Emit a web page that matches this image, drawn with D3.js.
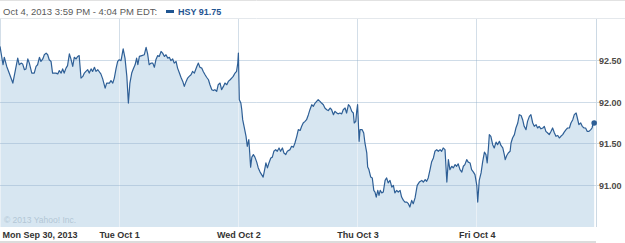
<!DOCTYPE html>
<html>
<head>
<meta charset="utf-8">
<script src="https://cdn.jsdelivr.net/npm/d3@7"></script>
<style>
  html, body { margin: 0; padding: 0; background: #fff; }
  svg { display: block; font-family: "Liberation Sans", Arial, sans-serif; }
</style>
</head>
<body>
<svg id="chart" width="625" height="243"></svg>
<script>
// ---- data (trading minutes since Mon 9:30 open, price) ----
const dayLabels = ["Mon Sep 30, 2013", "Tue Oct 1", "Wed Oct 2", "Thu Oct 3", "Fri Oct 4"];
const dayStarts = [0, 390, 780, 1170, 1560];
const yTicks = [91.0, 91.5, 92.0, 92.5];
const symbol = "HSY";
const headerText = "Oct 4, 2013 3:59 PM - 4:04 PM EDT:";

const mon = [[0,92.67],[10,92.45],[14,92.54],[22,92.43],[30,92.35],[36,92.29],[42,92.23],[58,92.53],[63,92.45],[69,92.47],[74,92.46],[80,92.39],[85,92.40],[91,92.52],[96,92.47],[104,92.35],[112,92.35],[118,92.43],[123,92.45],[129,92.54],[134,92.49],[140,92.52],[145,92.57],[151,92.59],[156,92.57],[161,92.51],[167,92.49],[172,92.35],[178,92.35],[183,92.35],[189,92.34],[194,92.38],[200,92.35],[205,92.40],[210,92.35],[216,92.41],[221,92.44],[227,92.58],[232,92.52],[238,92.43],[243,92.54],[249,92.52],[254,92.55],[259,92.56],[265,92.29],[271,92.31],[276,92.35],[281,92.37],[287,92.39],[292,92.35],[298,92.40],[303,92.37],[309,92.42],[314,92.37],[320,92.39],[330,92.34],[336,92.28],[344,92.17],[349,92.23],[358,92.23],[363,92.26],[369,92.23],[374,92.29],[380,92.41],[385,92.49],[390,92.51]];
const tue = [[396,92.50],[403,92.64],[409,92.53],[415,92.31],[420,91.99],[425,92.23],[431,92.35],[436,92.40],[442,92.45],[447,92.53],[451,92.45],[456,92.55],[464,92.56],[472,92.57],[478,92.66],[483,92.58],[488,92.45],[494,92.47],[500,92.47],[505,92.42],[510,92.51],[516,92.56],[521,92.55],[527,92.61],[532,92.59],[538,92.55],[543,92.57],[549,92.53],[554,92.54],[559,92.50],[565,92.52],[570,92.47],[576,92.49],[581,92.41],[587,92.35],[592,92.30],[598,92.25],[603,92.19],[609,92.25],[614,92.29],[619,92.31],[625,92.33],[630,92.37],[636,92.35],[644,92.43],[649,92.47],[654,92.42],[660,92.41],[665,92.37],[671,92.33],[676,92.30],[682,92.27],[687,92.21],[693,92.15],[698,92.14],[703,92.15],[709,92.13],[714,92.21],[720,92.23],[725,92.15],[731,92.19],[736,92.23],[742,92.21],[747,92.25],[753,92.27],[758,92.29],[763,92.31],[769,92.35],[774,92.37],[778,92.47],[780,92.59]];
const wed = [[783,92.03],[788,91.99],[791,91.91],[794,91.79],[799,91.70],[805,91.59],[809,91.47],[814,91.55],[816,91.45],[820,91.22],[824,91.34],[829,91.37],[834,91.34],[840,91.28],[845,91.21],[851,91.16],[856,91.13],[861,91.10],[867,91.21],[870,91.27],[875,91.21],[880,91.27],[886,91.33],[891,91.34],[896,91.41],[902,91.43],[907,91.41],[913,91.45],[918,91.41],[924,91.45],[929,91.39],[935,91.37],[940,91.41],[949,91.43],[954,91.47],[960,91.46],[965,91.51],[971,91.59],[976,91.67],[982,91.66],[987,91.71],[992,91.75],[998,91.77],[1003,91.79],[1009,91.85],[1014,91.91],[1020,91.97],[1025,91.95],[1031,91.99],[1036,92.01],[1041,92.03],[1047,92.01],[1052,91.99],[1058,91.97],[1063,91.93],[1069,91.91],[1074,91.90],[1080,91.93],[1085,91.91],[1091,91.85],[1096,91.89],[1102,91.87],[1107,91.86],[1112,91.87],[1118,91.86],[1123,91.91],[1129,91.93],[1134,91.87],[1140,91.97],[1145,91.95],[1151,91.89],[1156,91.87],[1159,91.75],[1164,91.77],[1167,91.89],[1170,91.97]];
const thu = [[1175,91.53],[1178,91.67],[1185,91.67],[1190,91.63],[1194,91.51],[1200,91.39],[1203,91.22],[1207,91.19],[1213,91.10],[1218,91.09],[1223,90.94],[1227,90.92],[1231,90.86],[1236,90.94],[1240,90.88],[1244,90.94],[1249,90.91],[1254,90.92],[1260,91.06],[1265,91.09],[1270,91.03],[1276,91.06],[1282,90.98],[1287,91.00],[1292,90.91],[1298,90.94],[1303,90.92],[1309,90.94],[1314,90.86],[1320,90.82],[1325,90.80],[1331,90.80],[1336,90.78],[1341,90.74],[1347,90.82],[1352,90.78],[1358,90.85],[1365,91.00],[1372,91.04],[1380,91.06],[1385,91.04],[1391,91.07],[1396,91.05],[1401,91.09],[1407,91.19],[1412,91.28],[1418,91.33],[1423,91.41],[1429,91.43],[1434,91.41],[1440,91.43],[1445,91.41],[1450,91.45],[1456,91.43],[1462,91.04],[1467,91.31],[1472,91.19],[1478,91.23],[1483,91.21],[1489,91.25],[1494,91.23],[1499,91.26],[1505,91.19],[1511,91.16],[1516,91.23],[1521,91.25],[1527,91.31],[1532,91.28],[1538,91.27],[1543,91.19],[1549,91.16],[1554,91.13],[1560,91.00]];
const fri = [[1563,90.80],[1568,91.06],[1574,91.15],[1579,91.28],[1585,91.40],[1590,91.37],[1594,91.27],[1598,91.45],[1601,91.61],[1606,91.59],[1612,91.49],[1617,91.45],[1623,91.52],[1628,91.49],[1634,91.53],[1639,91.48],[1645,91.45],[1650,91.37],[1653,91.31],[1658,91.36],[1663,91.39],[1669,91.41],[1672,91.51],[1677,91.57],[1683,91.61],[1688,91.69],[1694,91.75],[1699,91.85],[1705,91.84],[1710,91.79],[1715,91.71],[1721,91.67],[1726,91.77],[1732,91.83],[1737,91.85],[1743,91.75],[1748,91.71],[1754,91.73],[1759,91.69],[1764,91.71],[1770,91.68],[1776,91.69],[1781,91.71],[1786,91.65],[1792,91.63],[1797,91.61],[1803,91.65],[1808,91.69],[1814,91.63],[1819,91.59],[1825,91.60],[1830,91.57],[1835,91.59],[1841,91.61],[1846,91.64],[1852,91.67],[1857,91.69],[1863,91.69],[1868,91.75],[1874,91.79],[1879,91.85],[1885,91.87],[1889,91.81],[1894,91.73],[1900,91.75],[1905,91.71],[1911,91.69],[1916,91.69],[1921,91.65],[1927,91.65],[1933,91.67],[1937,91.69],[1941,91.75],[1944,91.75]];

const series = [].concat(mon, tue, wed, thu, fri);
const last = series[series.length - 1];

// ---- layout ----
const W = 625, H = 243;
const plotLeft = 0, plotRight = 596, plotTop = 19, plotBottom = 227;

const svg = d3.select("#chart");
const x = d3.scaleLinear().domain([0, 1950]).range([plotLeft, plotRight]);
const y = d3.scaleLinear().domain([90.5, 93.0]).range([plotBottom, plotTop]);
const px = v => Math.floor(v) + 0.5;

// header
svg.append("line").attr("x1", 0).attr("x2", W).attr("y1", 0.5).attr("y2", 0.5)
  .attr("stroke", "#e2e2e2");
svg.append("line").attr("x1", 0).attr("x2", W).attr("y1", plotTop - 0.5).attr("y2", plotTop - 0.5)
  .attr("stroke", "#e4e8ec");
svg.append("text").attr("x", 3).attr("y", 14.5)
  .attr("font-size", "9.5px").attr("fill", "#5a5a5a").text(headerText);
svg.append("rect").attr("x", 166).attr("y", 10).attr("width", 8).attr("height", 3)
  .attr("fill", "#1f5592");
svg.append("text").attr("x", 178).attr("y", 14.5)
  .attr("font-size", "9px").attr("font-weight", "bold").attr("fill", "#1f5592")
  .text(symbol + " " + d3.format(".2f")(last[1]));

// vertical day gridlines (under fill)
svg.append("g").selectAll("line").data(dayStarts).join("line")
  .attr("x1", d => px(x(d))).attr("x2", d => px(x(d)))
  .attr("y1", plotTop).attr("y2", plotBottom)
  .attr("stroke", "#d3dee8");

// area
const area = d3.area().x(d => x(d[0])).y0(plotBottom).y1(d => y(d[1]));
const line = d3.line().x(d => x(d[0])).y(d => y(d[1]));

const defs = svg.append("defs");
defs.append("clipPath").attr("id", "areaClip").append("path").attr("d", area(series));

svg.append("path").attr("d", area(series)).attr("fill", "#d7e6f1");

// vertical gridlines inside fill (lighter)
svg.append("g").attr("clip-path", "url(#areaClip)")
  .selectAll("line").data(dayStarts).join("line")
  .attr("x1", d => px(x(d))).attr("x2", d => px(x(d)))
  .attr("y1", plotTop).attr("y2", plotBottom)
  .attr("stroke", "#e9f0f6");

// horizontal gridlines
svg.append("g").selectAll("line").data(yTicks).join("line")
  .attr("x1", plotLeft).attr("x2", plotRight + 4)
  .attr("y1", d => px(y(d))).attr("y2", d => px(y(d)))
  .attr("stroke", "rgba(140,172,200,0.42)");

// right axis line
svg.append("line").attr("x1", plotRight + 0.5).attr("x2", plotRight + 0.5)
  .attr("y1", plotTop).attr("y2", plotBottom).attr("stroke", "#ccd9e4");

// copyright
svg.append("text").attr("x", 4).attr("y", 222.5)
  .attr("font-size", "8.5px").attr("fill", "#b3c6d6").text("\u00a9 2013 Yahoo! Inc.");

// price line
svg.append("path").attr("d", line(series))
  .attr("fill", "none").attr("stroke", "#2e5f96").attr("stroke-width", 1.2)
  .attr("stroke-linejoin", "round");
svg.append("circle").attr("cx", x(last[0])).attr("cy", y(last[1])).attr("r", 2.8)
  .attr("fill", "#2e5f96");

// y axis (right)
const yAxis = d3.axisRight(y).tickValues(yTicks).tickSize(0).tickPadding(3)
  .tickFormat(d3.format(".2f"));
const gy = svg.append("g").attr("transform", `translate(${plotRight},0)`).call(yAxis);
gy.select(".domain").remove();
gy.selectAll("text").attr("font-family", "Liberation Sans, Arial, sans-serif")
  .attr("font-size", "9px").attr("font-weight", "bold").attr("fill", "#4e4a46")
  .attr("dy", "0.34em");

// x axis
const xAxis = d3.axisBottom(x).tickValues(dayStarts).tickSize(0).tickPadding(0)
  .tickFormat((d, i) => dayLabels[i]);
const gx = svg.append("g").attr("transform", `translate(0,${plotBottom})`).call(xAxis);
gx.select(".domain").remove();
gx.selectAll("text").attr("font-family", "Liberation Sans, Arial, sans-serif")
  .attr("font-size", "9px").attr("font-weight", "bold").attr("fill", "#333")
  .attr("y", 10.5).attr("dy", 0)
  .attr("text-anchor", (d, i) => i === 0 ? "start" : "middle")
  .attr("x", (d, i) => i === 0 ? 2 : 0);

// bottom strip
svg.append("rect").attr("x", 0).attr("y", 241).attr("width", plotRight).attr("height", 2)
  .attr("fill", "#dcdcdc");
</script>
</body>
</html>
